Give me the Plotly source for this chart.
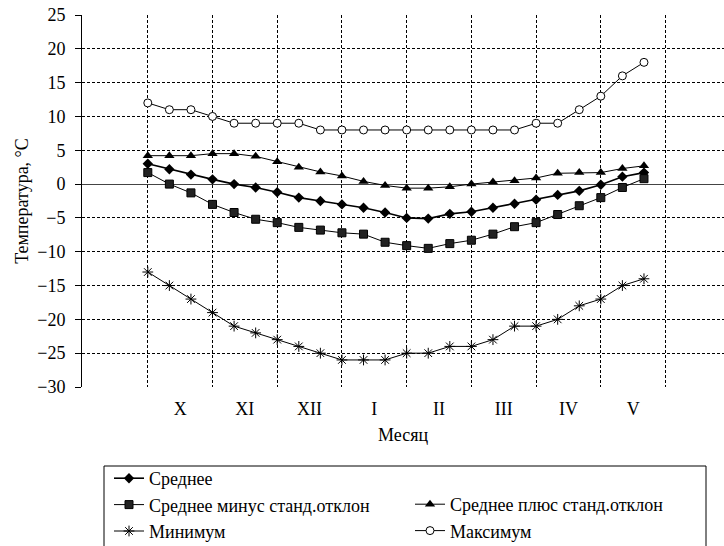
import plotly.graph_objects as go

months = ["X", "XI", "XII", "I", "II", "III", "IV", "V"]
y_ticks = [25, 20, 15, 10, 5, 0, -5, -10, -15, -20, -25, -30]

mean = [3.0, 2.2, 1.4, 0.7, 0.0, -0.5, -1.2, -2.0, -2.5, -3.0, -3.5, -4.2,
        -5.0, -5.1, -4.4, -4.1, -3.5, -2.9, -2.3, -1.6, -1.0, -0.1, 1.1, 1.7]
mean_minus_sd = [1.7, 0.0, -1.3, -3.0, -4.2, -5.2, -5.7, -6.4, -6.8, -7.2, -7.4, -8.6,
                 -9.1, -9.5, -8.8, -8.3, -7.4, -6.3, -5.7, -4.5, -3.2, -2.0, -0.5, 0.8]
mean_plus_sd = [4.2, 4.2, 4.2, 4.5, 4.5, 4.1, 3.3, 2.5, 1.8, 1.2, 0.4, -0.2,
                -0.6, -0.6, -0.4, 0.0, 0.3, 0.5, 0.9, 1.6, 1.7, 1.7, 2.3, 2.7]
minimum = [-13, -15, -17, -19, -21, -22, -23, -24, -25, -26, -26, -26,
           -25, -25, -24, -24, -23, -21, -21, -20, -18, -17, -15, -14]
maximum = [12, 11, 11, 10, 9, 9, 9, 9, 8, 8, 8, 8,
           8, 8, 8, 8, 8, 8, 9, 9, 11, 13, 16, 18]

DEC = 3  # decades per month
x = list(range(len(mean)))
month_grid = [DEC * k for k in range(len(months) + 1)]
month_centers = [DEC * k + DEC / 2 for k in range(len(months))]

W, H = 724, 546
L, R, T, B = 82, 0, 15, 159
pw, ph = W - L - R, H - T - B


def px_x(p):
    return (p - L) / pw


def px_y(p):
    return (H - B - p) / ph


FONT = "Liberation Serif"
F18 = dict(family=FONT, size=18, color="black")

fig = go.Figure()

series = [
    ("Среднее", mean, dict(symbol="diamond", size=8, color="black"), 1.6, "legend"),
    ("Среднее минус станд.отклон", mean_minus_sd,
     dict(symbol="square", size=8, color="#222", line=dict(color="black", width=1)), 1, "legend"),
    ("Среднее плюс станд.отклон", mean_plus_sd,
     dict(symbol="triangle-up", size=9, color="black"), 1, "legend2"),
    ("Минимум", minimum,
     dict(symbol="asterisk-open", size=9, color="black", line=dict(color="black", width=1)), 1, "legend"),
    ("Максимум", maximum,
     dict(symbol="circle", size=8, color="white", line=dict(color="black", width=1)), 1, "legend2"),
]
for i, (name, vals, mk, lw, lg) in enumerate(series):
    fig.add_trace(go.Scatter(
        x=x, y=vals, name=name, mode="lines+markers",
        line=dict(color="black", width=lw), marker=mk,
        legend=lg, legendgroup=f"g{i}",
    ))

# invisible trace to carry the month labels axis
fig.add_trace(go.Scatter(x=month_centers, y=[None] * len(month_centers),
                         xaxis="x2", showlegend=False, hoverinfo="skip"))

grid = dict(gridcolor="black", griddash="3px,2px", gridwidth=1)

fig.update_layout(
    width=W, height=H,
    margin=dict(l=L, r=R, t=T, b=B, autoexpand=False),
    paper_bgcolor="white", plot_bgcolor="white",
    font=F18,
    xaxis=dict(range=[-3.05, 26.71], tickvals=month_grid, showticklabels=False,
               showgrid=True, zeroline=False, showline=False, ticks="", **grid),
    xaxis2=dict(range=[-3.05, 26.71], overlaying="x", side="bottom",
                tickvals=month_centers, ticktext=months, showgrid=False,
                zeroline=False, showline=False, ticks="", ticklabelstandoff=9,
                tickfont=F18,
                title=dict(text="Месяц", standoff=10, font=F18)),
    yaxis=dict(range=[-30, 25], tickvals=y_ticks,
               ticktext=[str(v).replace("-", "\u2212") for v in y_ticks],
               showgrid=True, **grid, zeroline=True, zerolinecolor="#444", zerolinewidth=1,
               showline=True, linecolor="black", linewidth=1,
               ticks="outside", ticklen=6, tickcolor="black", tickfont=F18,
               ticklabelstandoff=6,
               title=dict(text="Температура, °C", standoff=3, font=F18)),
    showlegend=True,
    legend=dict(x=px_x(109), y=px_y(460), xanchor="left", yanchor="top",
                bgcolor="rgba(0,0,0,0)", borderwidth=0, tracegroupgap=0,
                traceorder="grouped", font=F18),
    legend2=dict(x=px_x(410), y=px_y(486), xanchor="left", yanchor="top",
                 bgcolor="rgba(0,0,0,0)", borderwidth=0, tracegroupgap=0,
                 traceorder="grouped", font=F18),
    shapes=[dict(type="rect", xref="paper", yref="paper",
                 x0=px_x(104), x1=px_x(706), y0=px_y(552), y1=px_y(466),
                 line=dict(color="black", width=1))],
)

fig.write_html("out.html")
